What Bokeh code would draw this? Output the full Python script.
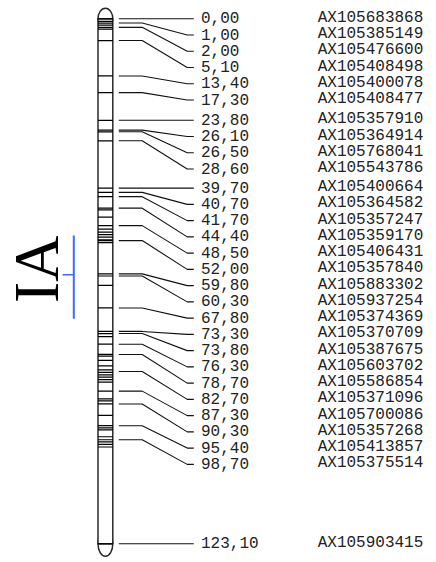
import math
from bokeh.plotting import figure
from bokeh.models import Range1d
from bokeh.core.properties import value
from bokeh.embed import file_html
from bokeh.resources import INLINE

# ---- data ----
group_name = "IA"
chrom_length = 123.10
positions = [0.00, 1.00, 2.00, 5.10, 13.40, 17.30, 23.80, 26.10, 26.50, 28.60,
             39.70, 40.70, 41.70, 44.40, 48.50, 52.00, 59.80, 60.30, 67.80, 73.30,
             73.80, 76.30, 78.70, 82.70, 87.30, 90.30, 95.40, 98.70, 123.10]
markers = ["AX105683868", "AX105385149", "AX105476600", "AX105408498", "AX105400078",
           "AX105408477", "AX105357910", "AX105364914", "AX105768041", "AX105543786",
           "AX105400664", "AX105364582", "AX105357247", "AX105359170", "AX105406431",
           "AX105357840", "AX105883302", "AX105937254", "AX105374369", "AX105370709",
           "AX105387675", "AX105603702", "AX105586854", "AX105371096", "AX105700086",
           "AX105357268", "AX105413857", "AX105375514", "AX105903415"]
band_positions = [0.0, 0.6, 1.0, 1.5, 2.0, 2.4, 5.1, 13.4, 17.3, 23.8, 26.1, 26.5, 28.6,
                  39.7, 40.7, 41.7, 44.4, 44.8, 46.5, 48.5, 49.3, 50.0, 50.6, 51.2, 51.8,
                  52.0, 52.5, 59.8, 60.3, 62.5, 67.8, 73.3, 73.8, 74.5, 76.3, 78.7, 79.1,
                  80.1, 81.4, 82.3, 82.9, 83.5, 84.0, 84.6, 85.2, 87.3, 89.1, 89.6, 90.3,
                  93.0, 95.4, 95.9, 96.4, 98.0, 98.7, 99.2, 99.8, 100.4, 123.1]
qtl_start, qtl_peak, qtl_end = 50.8, 60.0, 70.3

# ---- layout (pixel-based x, cM-based y) ----
W, H = 436, 562
px_per_cm = 4.265
top_px = 18.3
y_top = -top_px / px_per_cm
y_bot = (H - top_px) / px_per_cm

p = figure(width=W, height=H, output_backend="svg", toolbar_location=None,
           x_range=Range1d(0, W), y_range=Range1d(y_bot, y_top),
           x_axis_location=None, y_axis_location=None, min_border=0)
p.outline_line_color = None
p.xgrid.visible = False
p.ygrid.visible = False

chrom_l, chrom_r = 97.5, 112.3
chrom_c = (chrom_l + chrom_r) / 2
outline = "#2a2a2a"

# caps
p.ellipse(x=[chrom_c], y=[0], width=chrom_r - chrom_l, height=21, height_units="screen",
          fill_color="white", line_color=outline, line_width=1.5)
p.ellipse(x=[chrom_c], y=[chrom_length], width=chrom_r - chrom_l, height=25, height_units="screen",
          fill_color="white", line_color=outline, line_width=1.5)
# body
p.quad(left=[chrom_l], right=[chrom_r], top=[0], bottom=[chrom_length],
       fill_color="white", line_color=outline, line_width=1.5)
# bands
p.segment(x0=[chrom_l] * len(band_positions), x1=[chrom_r] * len(band_positions),
          y0=band_positions, y1=band_positions, line_color="black", line_width=1.2)

# label layout: push labels down to keep a minimum gap
gap = 3.81
label_y = []
for v in positions:
    ly = v if not label_y else max(v, label_y[-1] + gap)
    label_y.append(ly)

x_start, x_kink, x_diag_end, x_end = 118.3, 141.7, 186.7, 193.3
xs = [[x_start, x_kink, x_diag_end, x_end] for _ in positions]
ys = [[v, v, ly, ly] for v, ly in zip(positions, label_y)]
p.multi_line(xs=xs, ys=ys, line_color="#111111", line_width=1.1)

pos_labels = [f"{v:.2f}".replace(".", ",") for v in positions]
p.text(x=[200.5] * len(positions), y=label_y, text=pos_labels,
       text_font=value("Liberation Mono"), text_font_size="16px",
       text_baseline="alphabetic", text_align="left", y_offset=-1, text_color="#222222")
p.text(x=[370] * len(positions), y=label_y, text=markers,
       text_font=value("Liberation Mono"), text_font_size="16px",
       text_baseline="alphabetic", text_align="center", y_offset=-1, text_color="#222222")

# linkage group name
p.text(x=[36], y=[chrom_length / 2], text=[group_name], angle=math.pi / 2,
       text_font=value("Liberation Serif"), text_font_size="64px",
       text_baseline="middle", text_align="center", y_offset=-12, text_color="black")

# QTL interval
qtl_x = 73.3
p.segment(x0=[qtl_x], x1=[qtl_x], y0=[qtl_start], y1=[qtl_end], line_color="#3b6cff", line_width=2)
p.segment(x0=[62], x1=[qtl_x], y0=[qtl_peak], y1=[qtl_peak], line_color="#3b6cff", line_width=1.5)

open("out.html", "w").write(file_html(p, INLINE))
